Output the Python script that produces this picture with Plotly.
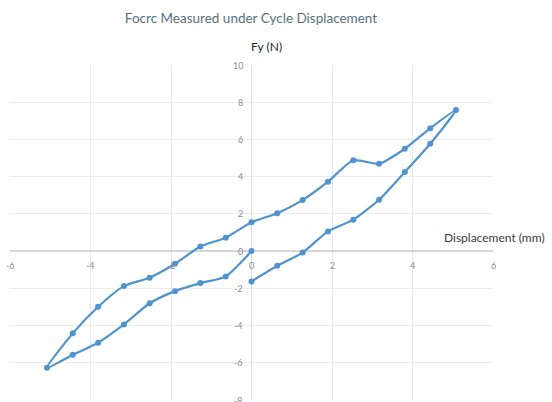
import plotly.graph_objects as go

disp_mm = [0, -0.64, -1.27, -1.9, -2.53, -3.17, -3.81, -4.44, -5.08,
           -4.44, -3.81, -3.17, -2.53, -1.9, -1.27, -0.64, 0,
           0.64, 1.27, 1.9, 2.53, 3.17, 3.81, 4.44, 5.08,
           4.44, 3.81, 3.17, 2.53, 1.9, 1.27, 0.64, 0]
force_n = [0, -1.36, -1.72, -2.15, -2.8, -3.94, -4.92, -5.57, -6.27,
           -4.42, -2.99, -1.88, -1.43, -0.68, 0.25, 0.72, 1.55,
           2.04, 2.74, 3.73, 4.88, 4.70, 5.5, 6.6, 7.58,
           5.77, 4.25, 2.76, 1.69, 1.06, -0.08, -0.79, -1.63]

x_ticks = [-6, -4, -2, 0, 2, 4, 6]
y_ticks = [10, 8, 6, 4, 2, 0, -2, -4, -6, -8]

title_text = "Focrc Measured under Cycle Displacement"
y_title = "Fy (N)"
x_title = "Displacement (mm)"

FONT = "Lato"
TICK_COLOR = "#8c8c8c"

W, H = 552, 402
L, R, T, B = 10, 59, 65, 2
pw, ph = W - L - R, H - T - B


def dom_x(px):
    return (px - L) / pw


def dom_y(py):
    return (H - B - py) / ph


fig = go.Figure()
fig.add_trace(go.Scatter(
    x=disp_mm, y=force_n, mode="lines+markers",
    line=dict(color="#4f93cf", width=2.2, shape="spline", smoothing=0.6),
    marker=dict(color="#4f93cf", size=6),
    showlegend=False, hoverinfo="x+y",
))

for t in x_ticks:
    fig.add_annotation(x=t, y=0, xref="x", yref="y", text=str(t),
                       showarrow=False, yshift=-14,
                       font=dict(family=FONT, size=9, color=TICK_COLOR))
for t in y_ticks:
    fig.add_annotation(x=0, y=t, xref="x", yref="y", text=str(t),
                       showarrow=False, xanchor="right", xshift=-7,
                       font=dict(family=FONT, size=9, color=TICK_COLOR))

fig.add_annotation(x=dom_x(266), y=dom_y(47), xref="paper", yref="paper",
                   text=y_title, showarrow=False, xanchor="center",
                   yanchor="middle",
                   font=dict(family=FONT, size=12, color="#262626"))
fig.add_annotation(x=dom_x(547), y=dom_y(237), xref="paper", yref="paper",
                   text=x_title, showarrow=False, xanchor="right",
                   yanchor="middle",
                   font=dict(family=FONT, size=12, color="#3a3a3a"))

fig.update_layout(
    width=W, height=H,
    margin=dict(l=L, r=R, t=T, b=B),
    paper_bgcolor="white", plot_bgcolor="white",
    title=dict(text=title_text, x=251 / W, xanchor="center", y=1 - 18 / H,
               yanchor="middle",
               font=dict(family=FONT, size=13.5, color="#56707f")),
    xaxis=dict(range=[-6, 6], tickvals=x_ticks, showticklabels=False,
               showgrid=True, gridcolor="#e6eaf0", gridwidth=1,
               zeroline=True, zerolinecolor="#dcdcdc", zerolinewidth=1,
               showline=False, fixedrange=True),
    yaxis=dict(range=[-8, 10], tickvals=y_ticks, showticklabels=False,
               showgrid=True, gridcolor="#ececec", gridwidth=1,
               zeroline=True, zerolinecolor="#d6d6d6", zerolinewidth=1.5,
               showline=False, fixedrange=True),
)

fig.write_html("out.html")
